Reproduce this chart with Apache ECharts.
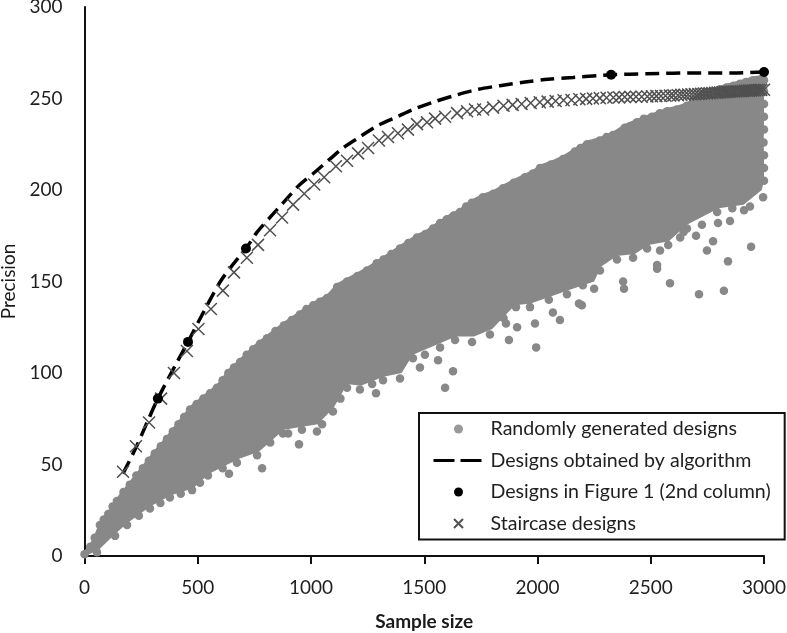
<!DOCTYPE html>
<html><head><meta charset="utf-8">
<style>html,body{margin:0;padding:0;background:#fff}#c{width:787px;height:633px}</style>
<script src="https://cdn.jsdelivr.net/npm/echarts@6/dist/echarts.min.js"></script>
</head><body><div id="c"></div>
<script>
// Upper edge of the dense random-design cloud (sample size, precision)
const cloudUpper = [[0,3],[25,7],[45,12],[68,19],[105,25],[143,32],[200,41],[258,50],[310,58],[364,66],[415,74],[466,82],[525,88],[585,94],[635,102],[687,108],[745,115],[806,121],[880,128],[951,134],[1010,139],[1071,143],[1115,149],[1159,152],[1205,155],[1247,158],[1320,164],[1393,170],[1430,173],[1468,176],[1505,178],[1539,181],[1600,186],[1658,190],[1710,195],[1759,198],[1805,200],[1848,203],[1895,206],[1945,209],[1980,211],[2011,214],[2060,216],[2113,219],[2165,223],[2219,227],[2275,229],[2333,232],[2385,236],[2439,239],[2505,242],[2572,245],[2615,246],[2660,248],[2715,253],[2775,256],[2835,258],[2894,260],[2950,262],[2995,263]];
// Lower edge of the dense cloud
const cloudLower = [[0,0],[60,3],[135,12],[190,18],[290,27],[380,33],[480,37],[550,45],[680,53],[770,57],[880,69],[1030,72],[1100,81],[1160,94],[1220,93],[1320,98],[1400,100],[1450,110],[1640,120],[1720,120],[1800,124],[1900,137],[1970,138],[2130,145],[2250,150],[2280,158],[2350,164],[2430,165],[2490,170],[2580,172],[2660,181],[2800,190],[2910,192],[2990,200],[3000,205]];
// Individually visible designs on the upper rim, lower rim, right rim and outliers
const upperRim = [[0,1],[25,5],[45,10],[68,17],[85,20],[105,23],[124,27],[143,30],[172,35],[200,39],[229,44],[258,48],[284,52],[310,56],[337,60],[364,64],[390,68],[415,72],[440,76],[466,80],[495,83],[525,86],[555,89],[585,92],[610,96],[635,100],[660,103],[687,106],[716,110],[745,113],[775,116],[806,119],[843,123],[880,126],[915,129],[951,132],[980,135],[1010,137],[1040,139],[1071,141],[1115,147],[1159,150],[1205,153],[1247,156],[1290,160],[1320,162],[1355,165],[1393,168],[1430,171],[1468,174],[1505,176],[1539,179],[1570,182],[1600,184],[1630,186],[1658,188],[1685,191],[1710,193],[1759,196],[1805,198],[1848,201],[1895,204],[1945,207],[1980,209],[2011,212],[2060,214],[2113,217],[2165,221],[2190,223],[2219,225],[2275,227],[2305,229],[2333,230],[2385,234],[2410,235],[2439,237],[2470,239],[2505,240],[2540,242],[2572,243],[2615,244],[2660,246],[2690,249],[2715,251],[2745,253],[2775,254],[2805,255],[2835,256],[2865,257],[2894,258],[2920,259],[2950,260],[2995,261]];
const lowerRim = [[55,2],[135,11],[188,17],[240,22],[289,26],[335,29],[377,32],[425,34],[475,36],[510,40],[545,44],[610,48],[673,51],[762,55],[820,62],[876,67],[899,67],[960,69],[1026,68],[1049,72],[1097,79],[1130,86],[1159,92],[1216,91],[1270,94],[1318,96],[1393,97],[1450,108],[1503,110],[1570,114],[1636,118],[1711,117],[1790,121],[1850,130],[1905,136],[1967,136],[2050,140],[2130,143],[2200,148],[2276,156],[2351,162],[2422,163],[2484,168],[2577,170],[2630,174],[2660,179],[2726,181],[2797,182],[2793,188],[2860,190],[2912,189],[2938,191],[2996,196]];
const rightRim = [[3000,205],[3000,212],[3000,219],[2998,226],[3000,233],[3000,240],[3000,247],[3000,254],[3000,260]];
const outliers = [[638,45],[784,48],[947,61],[1287,89],[1592,92],[1627,101],[1561,107],[1481,103],[1874,118],[1994,114],[1910,125],[1861,127],[1989,127],[2068,133],[2099,129],[2183,138],[2196,137],[2250,146],[2378,150],[2382,146],[2528,159],[2528,157],[2585,149],[2713,143],[2823,145],[2841,161],[2943,169],[2748,167],[2775,172],[2700,175],[2541,167],[2850,183],[2645,177]];
const algorithmCurve = [[170,45],[230,60],[280,74],[324,86],[400,104],[457,117],[520,132],[600,150],[660,160],[713,168],[762,177],[819,185],[877,193],[951,203],[1010,209],[1075,216],[1142,223],[1216,229],[1291,235],[1380,240],[1451,244],[1539,248],[1645,252],[1737,255],[1834,257],[1945,259],[2046,260.5],[2157,261.5],[2263,262.5],[2326,263],[2484,263.5],[2717,264],[2863,264],[3000,264.5]];
const figureDesigns = [[324,86],[457,117],[713,168],[2325,263],[3000,264.5]];
const staircase = [[170,46],[227,60],[285,73],[338,86],[395,100],[452,112],[503,124],[558,135],[611,145],[660,155],[717,163],[766,170],[819,178],[872,185],[921,192],[970,198],[1014,203],[1058,207],[1110,213],[1159,216],[1208,220],[1252,223],[1300,227],[1340,229],[1384,231],[1428,233],[1468,236],[1512,237],[1548,239],[1592,240],[1645,242],[1689,243],[1724,244],[1760,244],[1804,245],[1850,246],[1890,246.5],[1930,247],[1970,247.5],[2010,248],[2045,248.3],[2080,248.6],[2115,249],[2150,249.2],[2185,249.6],[2215,249.8],[2245,250],[2275,250.2],[2305,250.4],[2335,250.5],[2360,250.6],[2385,250.8],[2410,250.9],[2435,251],[2460,251],[2485,251.1],[2505,251.2],[2525,251.3],[2545,251.4],[2565,251.5],[2585,251.6],[2600,251.7],[2620,251.8],[2635,252],[2650,252],[2665,252.2],[2680,252.3],[2695,252.4],[2710,252.5],[2722,252.6],[2735,252.7],[2748,252.8],[2760,252.9],[2772,253],[2784,253.1],[2795,253.2],[2806,253.3],[2817,253.4],[2828,253.5],[2838,253.6],[2848,253.7],[2858,253.8],[2868,253.8],[2878,253.9],[2888,254],[2898,254],[2907,254.1],[2916,254.2],[2925,254.2],[2934,254.3],[2943,254.4],[2952,254.4],[2961,254.5],[2970,254.6],[2979,254.6],[2988,254.7],[3000,254.8]];
const seriesNames = ['Randomly generated designs','Designs obtained by algorithm','Designs in Figure 1 (2nd column)','Staircase designs'];

const FONT = 'Lato, "Open Sans", sans-serif';
const GREY = '#888888';
const chart = echarts.init(document.getElementById('c'), null, {renderer:'canvas'});
chart.setOption({
  animation:false,
  backgroundColor:'#fff',
  grid:{left:84.5,right:23,top:7,bottom:77,containLabel:false,outerBoundsMode:'none'},
  xAxis:{type:'value',min:0,max:3000,interval:500,name:'Sample size',nameLocation:'middle',nameGap:56,
    nameTextStyle:{fontFamily:FONT,fontSize:19,fontWeight:'bold',color:'#1a1a1a'},
    axisLine:{lineStyle:{color:'#111',width:2}},axisTick:{show:true,length:8,inside:false,lineStyle:{color:'#111',width:2}},
    axisLabel:{fontFamily:FONT,fontSize:19,color:'#1f1f1f',margin:22,showMaxLabel:true,hideOverlap:false,formatter:v=>String(v)},splitLine:{show:false}},
  yAxis:{type:'value',min:0,max:300,interval:50,name:'Precision',nameLocation:'middle',nameGap:66,
    nameTextStyle:{fontFamily:FONT,fontSize:19,color:'#1a1a1a'},
    axisLine:{show:true,lineStyle:{color:'#111',width:2}},axisTick:{show:false},
    axisLabel:{fontFamily:FONT,fontSize:19,color:'#1f1f1f',margin:22,formatter:v=>String(v)},splitLine:{show:false}},
  legend:{orient:'vertical',left:419,top:413,padding:[6,14,6,13],itemWidth:50,itemHeight:9,itemGap:11.5,
    backgroundColor:'#fff',borderColor:'#111',borderWidth:2,align:'left',
    textStyle:{fontFamily:FONT,fontSize:19.6,color:'#1f1f1f',padding:[0,0,0,2],lineHeight:19},
    data:[
      {name:seriesNames[0],icon:'circle',itemStyle:{color:'#9a9a9a'}},
      {name:seriesNames[1],itemStyle:{opacity:0},lineStyle:{color:'#000',width:3,type:[21,6]}},
      {name:seriesNames[2],icon:'circle'},
      {name:seriesNames[3]}
    ]},
  series:[
    {type:'custom',name:'cloud body',silent:true,coordinateSystem:'cartesian2d',clip:false,z:2,
      data:[[0,0]],encode:{x:0,y:1},
      renderItem:(p,api)=>({type:'polygon',
        shape:{points:cloudUpper.concat(rightRim.slice().reverse(),cloudLower.slice().reverse()).map(d=>api.coord(d))},
        style:{fill:GREY}})},
    {type:'scatter',name:seriesNames[0],clip:false,z:3,symbol:'circle',symbolSize:8.5,
      itemStyle:{color:GREY,opacity:1},
      data:upperRim.concat(lowerRim,rightRim,outliers)},
    {type:'line',name:seriesNames[1],clip:false,z:4,symbol:'none',smooth:0.3,
      lineStyle:{color:'#000',width:3.5,type:[14,7]},itemStyle:{color:'#000'},data:algorithmCurve},
    {type:'scatter',name:seriesNames[2],clip:false,z:6,symbol:'circle',symbolSize:10,
      itemStyle:{color:'#000',opacity:1},data:figureDesigns},
    {type:'scatter',name:seriesNames[3],clip:false,z:5,symbol:'path://M0 0L10 10M10 0L0 10',symbolSize:12,
      itemStyle:{color:'rgba(0,0,0,0)',borderColor:'#505050',borderWidth:1.5,opacity:1},data:staircase}
  ]
});
</script></body></html>
